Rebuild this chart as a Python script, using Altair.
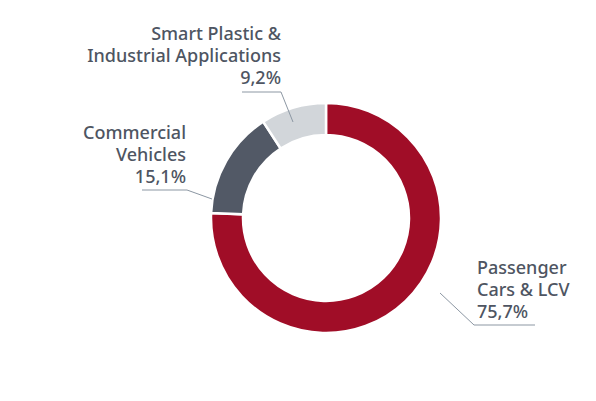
import altair as alt
import pandas as pd

# ---- data ----
categories = ["Passenger Cars & LCV", "Commercial Vehicles", "Smart Plastic & Industrial Applications"]
shares = [75.7, 15.1, 9.2]
name_lines = [["Passenger", "Cars & LCV"], ["Commercial", "Vehicles"], ["Smart Plastic &", "Industrial Applications"]]
pct_labels = ["75,7%", "15,1%", "9,2%"]
colors = ["#A00D27", "#525966", "#D2D6DA"]

# ---- layout (chart pixel coordinates for annotations) ----
CENTER = (318, 210)
OUTER_R, INNER_R = 115, 83
label_layout = [
    # anchor x, align, first baseline, underline x0, x1, underline y, leader end x, y
    dict(x=469, align="left", y0=266, ux0=466, ux1=527, uy=317, lx=432, ly=285, lstart="left"),
    dict(x=178, align="right", y0=131, ux0=134, ux1=179, uy=182, lx=204, ly=191, lstart="right"),
    dict(x=273, align="right", y0=32, ux0=234, ux1=273, uy=84, lx=285, ly=114, lstart="right"),
]
LINE_STEP = 22
TEXT_COLOR = "#4E5562"
LEADER_COLOR = "#8C97A3"
FONT = "Noto Sans"
FONT_SIZE = 18

slices = pd.DataFrame({"category": categories, "share": shares, "order": list(range(len(categories)))})

text_rows, rule_rows = [], []
for lines, pct, lay in zip(name_lines, pct_labels, label_layout):
    all_lines = lines + [pct]
    for i, t in enumerate(all_lines):
        text_rows.append({"x": lay["x"], "y": lay["y0"] + i * LINE_STEP, "text": t, "align": lay["align"]})
    rule_rows.append({"x": lay["ux0"], "y": lay["uy"], "x2": lay["ux1"], "y2": lay["uy"]})
    sx = lay["ux0"] if lay["lstart"] == "left" else lay["ux1"]
    rule_rows.append({"x": sx, "y": lay["uy"], "x2": lay["lx"], "y2": lay["ly"]})

texts = pd.DataFrame(text_rows)
rules = pd.DataFrame(rule_rows)

arc = alt.Chart(slices).mark_arc(
    outerRadius=OUTER_R, innerRadius=INNER_R, stroke="white", strokeWidth=2.5
).encode(
    theta=alt.Theta("share:Q", stack=True),
    color=alt.Color("category:N", scale=alt.Scale(domain=categories, range=colors), legend=None),
    order=alt.Order("order:Q"),
    x=alt.value(CENTER[0]),
    y=alt.value(CENTER[1]),
)

rule_layer = alt.Chart(rules).mark_rule(color=LEADER_COLOR, strokeWidth=1).encode(
    x=alt.X("x:Q", scale=None), y=alt.Y("y:Q", scale=None),
    x2="x2:Q", y2="y2:Q",
)

def text_layer(align):
    return alt.Chart(texts).transform_filter(alt.datum.align == align).mark_text(
        align=align, baseline="alphabetic", font=FONT, fontSize=FONT_SIZE,
        fontWeight=500, color=TEXT_COLOR
    ).encode(
        x=alt.X("x:Q", scale=None), y=alt.Y("y:Q", scale=None), text="text:N"
    )

chart = alt.layer(arc, rule_layer, text_layer("left"), text_layer("right")).properties(
    width=580, height=385, padding=0, autosize=alt.AutoSizeParams(type="none"),
    background="white",
).configure_view(stroke=None)

chart.save("out.html", embed_options={"renderer": "svg", "actions": False})
